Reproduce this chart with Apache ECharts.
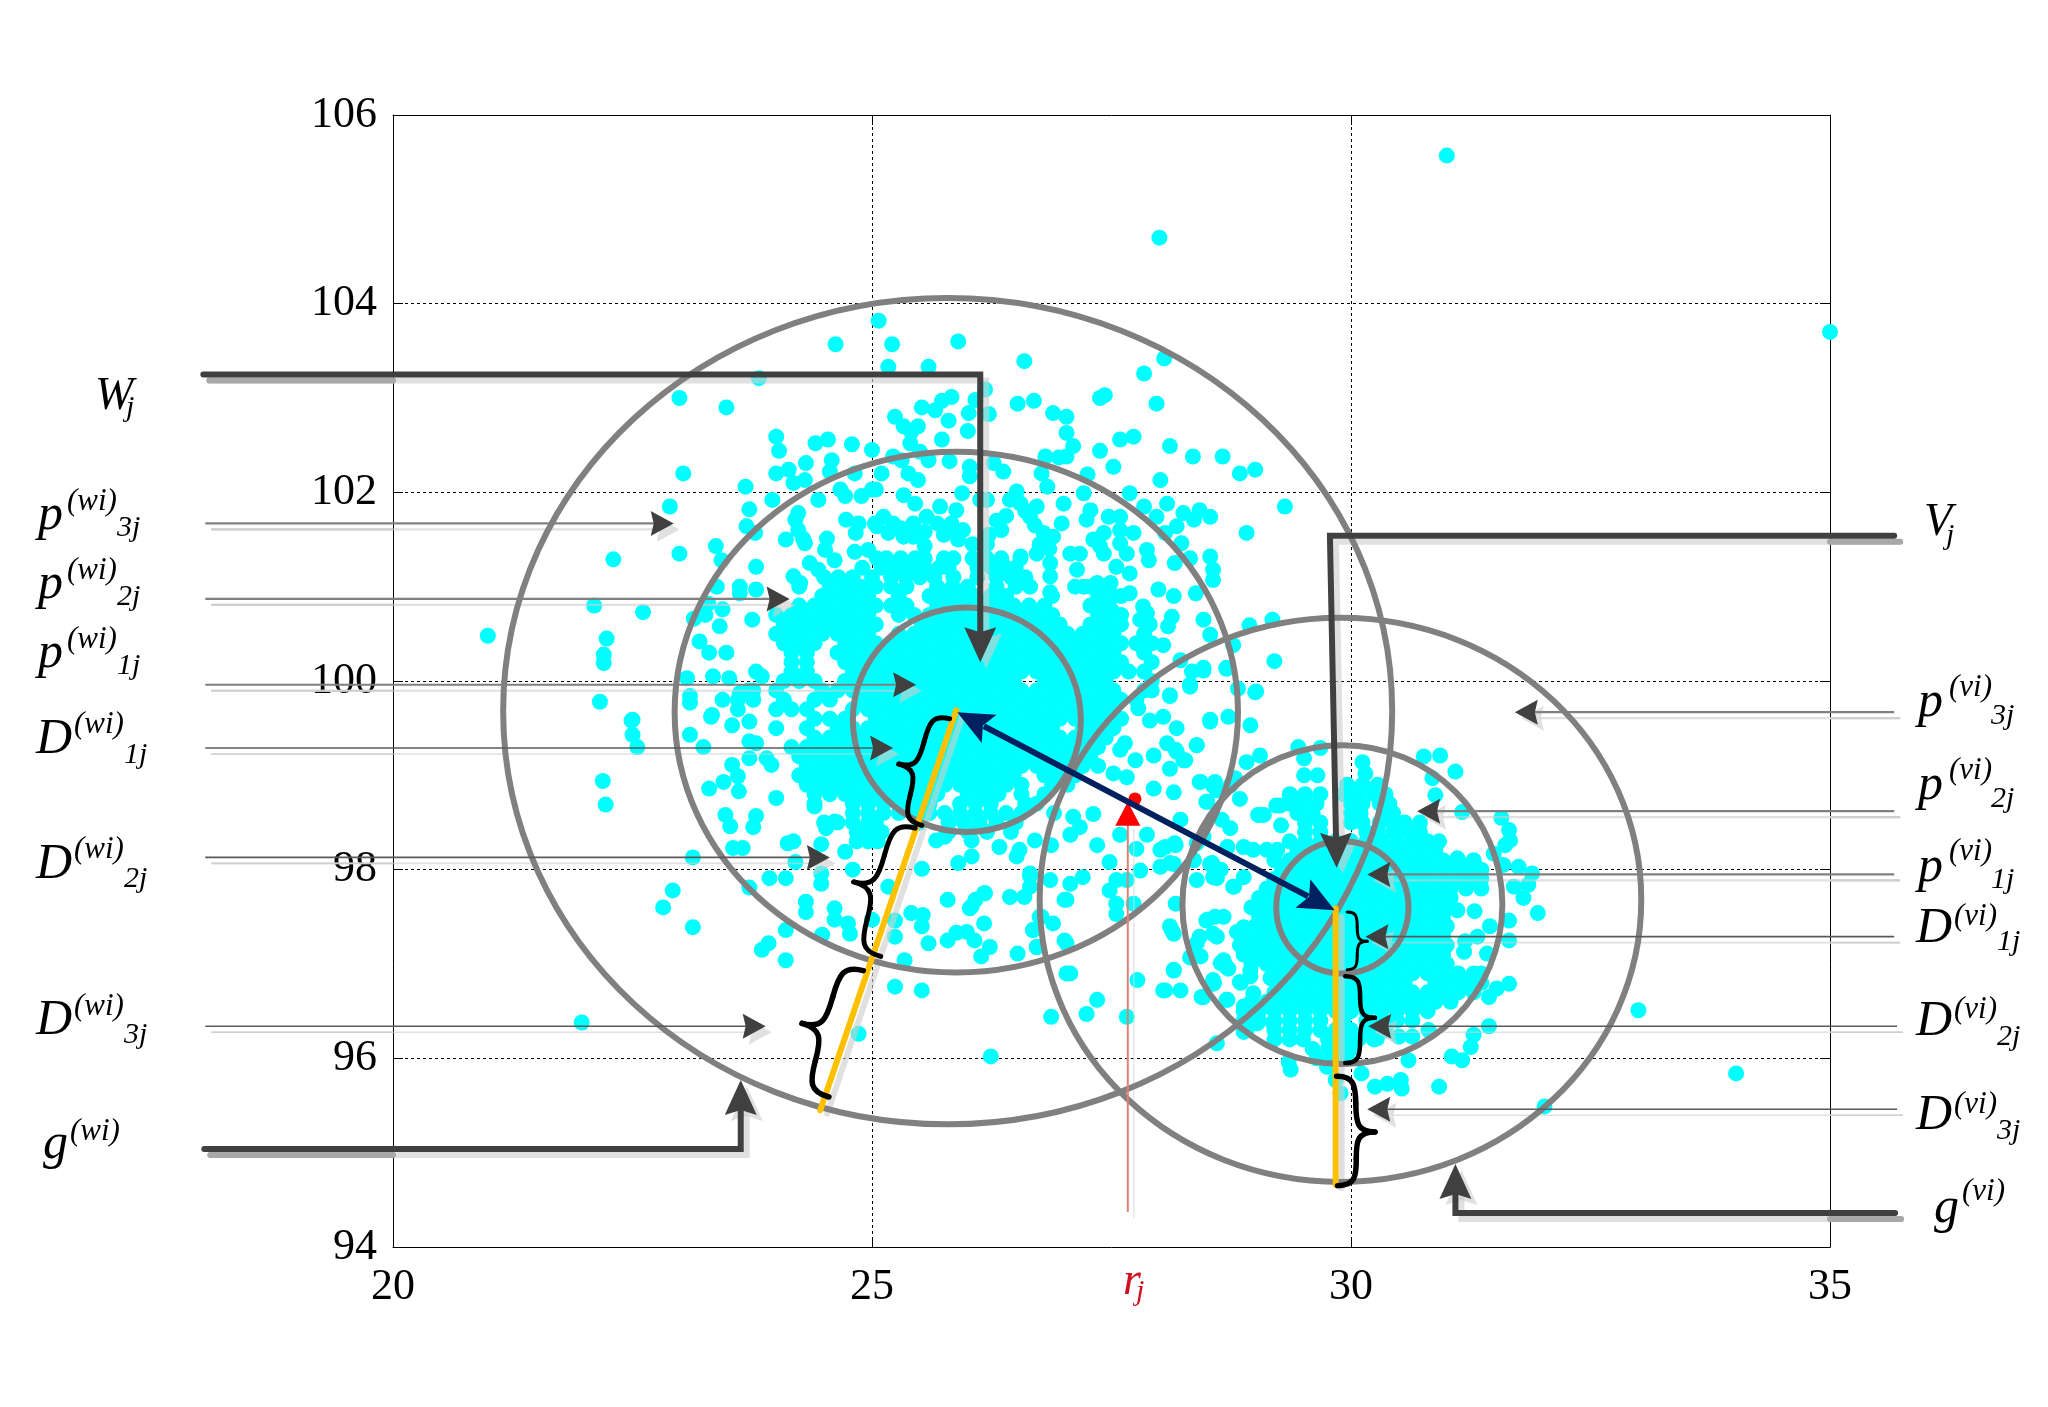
<!DOCTYPE html>
<html>
<head>
<meta charset="utf-8">
<style>html,body{margin:0;padding:0;background:#fff}#c{width:2048px;height:1407px}</style>
<script src="https://cdn.jsdelivr.net/npm/echarts@6/dist/echarts.min.js"></script>
</head>
<body>
<div id="c"></div>
<script>
// ---------- tick values ----------
const xTicks = [20, 25, 30, 35];
const yTicks = [94, 96, 98, 100, 102, 104, 106];

// ---------- scattered points [x, y] ----------
const outlierPoints = [[35,103.7],[31,105.57],[28,104.7],[21.97,96.38],[33,96.51],[34.02,95.84],[20.99,100.48],[32.02,95.49],[22.19,98.94],[22.22,98.69],[22.49,99.58],[22.5,99.43],[22.55,99.3]];

const upperLeftPoints = [[24.62,103.57],[25.07,103.82],[23.82,103.21],[22.99,103],[23.48,102.9],[24,102.59],[24.03,102.44],[24.41,102.52],[24.54,102.56],[24.79,102.51],[25,102.45],[24.31,102.31],[24.58,102.34],[24.56,102.22],[24.13,102.24],[24,102.2],[24.18,102.1],[24.3,102.13],[23.03,102.2],[23.68,102.06],[24.67,102.03],[24.72,101.96],[24.89,101.96],[24.44,101.92],[25,102.03],[24.82,102.2],[23.96,101.92],[22.89,101.85],[23.72,101.82],[24.23,101.78],[24.2,101.71],[23.69,101.64],[23.78,101.57],[24.73,101.71],[24.86,101.67],[24.83,101.57],[25.03,101.67],[24.23,101.6],[24.28,101.51],[24.3,101.46],[24.1,101.5],[24.53,101.51],[24.51,101.39],[23.37,101.43],[22.99,101.35],[22.3,101.29],[23.43,101.28],[24.82,101.37],[24.96,101.39],[24.61,101.28],[24.35,101.25],[23.79,101.21],[24.44,101.18],[24.18,101.11],[24.25,101.04],[23.38,101],[23.62,101],[23.62,100.93],[23.79,100.97],[22.1,100.8],[22.61,100.73],[23.44,100.76],[23.29,100.82],[23.14,100.66],[23.26,100.7],[23.41,100.58],[23.75,100.65],[22.23,100.45],[22.2,100.28],[22.2,100.19],[23.2,100.42],[23.3,100.3],[23.48,100.3],[23.79,100.1],[23.85,100.05],[23.07,100.03],[23.34,100.05],[23.51,100.03],[22.16,99.78],[23.1,99.84],[23.1,99.77],[23.62,99.87],[23.71,99.9],[22.5,99.59],[23.33,99.64]];

const upperRightPoints = [[25.21,103.57],[25.9,103.6],[25.17,103.33],[25.59,103.33],[26.59,103.39],[28.05,103.42],[27.84,103.26],[26.18,103.09],[27.43,103.03],[27.38,103],[26.69,102.97],[26.52,102.94],[27.97,102.94],[25.83,103.01],[25.73,102.97],[25.66,102.87],[25.52,102.9],[26.08,102.98],[26.01,102.84],[26.22,102.83],[25.8,102.76],[25.24,102.8],[25.33,102.7],[25.48,102.7],[25.41,102.64],[26,102.65],[26.89,102.84],[27.03,102.8],[27.03,102.63],[27.1,102.49],[27.73,102.59],[27.59,102.56],[28.11,102.49],[27.38,102.44],[28.35,102.38],[28.66,102.38],[29,102.24],[28.84,102.2],[27.52,102.27],[28.01,102.13],[25.73,102.56],[25.4,102.52],[25.22,102.38],[25.31,102.34],[25.5,102.43],[25.59,102.34],[25.81,102.33],[26.02,102.27],[26.02,102.17],[26.27,102.31],[26.37,102.22],[25.1,102.2],[25.38,102.2],[25.48,102.13],[26.81,102.38],[27.03,102.38],[26.95,102.37],[26.77,102.2],[26.83,102.06],[27.25,102.19],[25.04,102.03],[25.33,101.97],[25.45,101.88],[25.94,101.99],[26.13,101.92],[26.2,101.92],[26.51,102.01],[26.44,101.92],[26.55,101.88],[26.72,101.85],[26.65,101.74],[27,101.88],[27.21,101.99],[27.69,101.99],[28.08,101.88],[27.84,101.85],[27.28,101.81],[27.24,101.71],[29.31,101.85],[28.91,101.57],[28.53,101.74],[28.42,101.81],[28.25,101.78],[28.36,101.71],[27.97,101.74],[28.18,101.64],[28.06,101.57],[27.47,101.74],[27.59,101.74],[27.73,101.57],[27.59,101.6],[25.71,101.85],[25.88,101.81],[25.83,101.67],[25.57,101.74],[25.43,101.67],[25.68,101.67],[25.12,101.74],[25.22,101.67],[25.05,101.64],[25.17,101.57],[25.33,101.53],[25.43,101.53],[25.55,101.43],[26.98,101.67],[26.89,101.53],[26.79,101.57],[27.42,101.57],[27.31,101.5],[27.38,101.43],[27.42,101.35],[27.59,101.46],[27.66,101.35],[27.55,101.21],[28.23,101.46],[27.87,101.39],[27.89,101.28],[28.53,101.32],[28.56,101.18],[28.56,101.07],[28.32,101.3],[28.16,101.25],[27.07,101.35],[27.17,101.35],[26.72,101.35],[26.86,101.25],[26.86,101.11],[26.55,101.32],[26.86,100.94],[27.14,101.18],[27.21,101],[27.35,101.04],[27.49,101.04],[27.69,101.14],[27.69,100.93],[27.99,100.97],[28.15,100.9],[28.38,100.93],[27.83,100.79],[27.87,100.72],[28.13,100.68],[28.09,100.58],[28.04,100.38],[28.46,100.65],[28.53,100.49],[28.77,100.38],[28.94,100.59],[29.18,100.65],[29.2,100.21],[28.7,100.14],[29.01,99.89],[28.82,99.92],[28.46,100.14],[28.34,100.1],[28.22,100.22],[28.32,99.96],[28.11,99.84],[27.92,99.9],[28.53,99.59],[28.72,99.62],[26.3,101.7],[26.35,101.6],[26.22,101.55],[26.2,101.45],[26.05,101.45],[25.9,101.5],[25.75,101.55],[25.85,101.6],[25.95,101.6],[26.4,101.75],[26.6,101.8],[26.7,101.65],[26.75,101.45],[26.85,101.4],[25.3,101.62],[25.55,101.58],[27.6,100.7],[27.5,100.75],[27.9,100.6],[27.8,100.65],[27.6,100.9]];

const lowerPoints = [[23.32,99.62],[23.54,99.53],[23.72,99.57],[23.1,99.43],[23.24,99.3],[23.72,99.36],[23.79,99.34],[23.72,99.18],[23.9,99.18],[23.95,99.11],[23.54,99.11],[23.6,98.99],[23.45,98.93],[23.3,98.86],[23.61,98.83],[24,98.76],[23.47,98.58],[23.79,98.57],[23.52,98.46],[23.76,98.45],[23.55,98.23],[23.65,98.23],[24.12,98.28],[24.18,98.3],[24.47,98.27],[24.72,98.19],[23.13,98.13],[24.2,98.08],[24.61,98.51],[24.52,98.44],[24.4,98.67],[24.8,98],[24.47,97.96],[24.47,97.85],[23.93,97.91],[24.1,97.91],[23.72,97.81],[22.92,97.78],[22.82,97.6],[23.13,97.39],[24.31,97.66],[24.31,97.55],[24.61,97.59],[24.61,97.47],[24.75,97.43],[24.77,97.32],[25,97.47],[25.17,97.82],[25.52,98.01],[24.1,97.36],[24.48,97.31],[23.92,97.22],[23.85,97.15],[24.1,97.04],[25.24,97.46],[25.24,97.29],[25.34,97.04],[25.41,97.54],[25.53,97.52],[25.52,97.4],[25.79,97.68],[26.17,97.75],[26.04,97.61],[25.59,97.22],[25.79,97.25],[25.88,97.33],[25.99,97.34],[26.07,97.25],[26.17,97.43],[26.23,97.18],[26.14,97.08],[26.52,97.11],[26.72,97.18],[26.68,97.36],[26.89,97.43],[26.75,97.5],[26.44,97.71],[26.59,97.71],[26.65,97.93],[26.86,97.89],[27.01,97.68],[27.01,97.25],[27.03,96.9],[26.87,96.44],[26.24,96.02],[25.24,96.76],[25.52,96.72],[24.86,96.26],[25.9,98.07],[26.04,98.14],[26.51,98.14],[26.54,98.21],[26.33,98.24],[26.7,98.31],[26.87,98.26],[26.04,98.31],[25.67,98.31],[25.76,98.35],[27.77,96.83],[27.35,96.62],[27.24,96.47],[27.66,96.44],[28.04,96.72],[28.22,96.72],[28.15,96.93],[28.13,97.36],[28.46,96.65],[28.7,96.62],[28.56,96.79],[28.6,96.16],[28.91,96.3],[27.07,96.9],[28.53,99.57],[28.95,99.53],[28.11,99.85],[28.32,99.94],[28.46,100.11],[29,99.88],[28.7,100.13],[27.52,99.76],[27.78,99.71],[27.9,99.58],[28.04,99.62],[28.18,99.5],[27.24,99.69],[27.35,99.55],[27.64,99.34],[27.75,99.16],[28.08,99.34],[28.18,99.25],[28.27,99.16],[28.39,99.32],[28.11,99.07],[27.94,99.21],[27.94,98.86],[28.15,98.82],[28.42,98.93],[28.56,98.89],[28.74,98.89],[28.49,98.72],[28.84,98.75],[29.22,98.68],[29.05,99.21],[28.91,99.14],[29.03,98.58],[27.52,99.02],[27.66,98.98],[27.59,99.27],[27.1,98.56],[27.31,98.59],[27.17,98.45],[27.07,98.37],[27.35,98.26],[27.87,98.37],[27.59,98.37],[27.76,98.22],[27.48,98.08],[28.01,98.21],[28.15,98.06],[28.01,98.03],[28.16,98.28],[28.39,98.28],[28.53,98.06],[28.56,97.92],[28.39,97.89],[28.77,97.82],[28.88,97.92],[27.8,97.99],[27.55,97.89],[27.66,97.89],[27.48,97.78],[27.55,97.64],[27.73,97.64],[27.55,97.53],[27.2,97.92],[27.07,97.85],[27.03,97.68],[26.65,97.96],[26.65,97.82],[26.18,97.75],[26.08,97.68],[26.02,97.59],[26.77,97.5],[26.68,97.36],[26.72,97.18],[27.03,97.22],[28.49,97.46],[28.67,97.5],[28.42,97.29],[28.56,97.32],[28.88,97.39],[28.67,97.04],[28.7,96.97],[28.56,96.83],[29.05,97.53],[29.15,97.29],[28.91,97.22],[29.09,97.11],[28.95,96.93],[28.84,96.81],[28.32,97.07],[28.39,97.22]];

const viEdgePoints = [[30.76,99.2],[30.93,99.21],[31.09,99.04],[30.85,98.97],[30.88,98.79],[31.16,98.61],[31.57,98.55],[31.65,98.42],[31.66,98.31],[31.61,98.26],[31.49,98.17],[31.11,98.12],[31.28,98.08],[31.59,98.05],[31.75,98.03],[31.89,97.96],[31.7,97.82],[31.85,97.84],[31.8,97.7],[31.95,97.54],[31.65,97.46],[31.45,97.4],[31.32,97.29],[31.19,97.24],[31.18,97.13],[31.65,97.25],[31.42,97.11],[31.11,97.57],[31.29,97.56],[31.65,96.79],[31.52,96.74],[31.44,96.65],[31.44,96.34],[31.28,96.25],[31.25,96.12],[31.05,96.02],[31.16,95.98],[30.6,95.98],[30.81,96.3],[30.64,96.23],[30.5,96.23],[30.27,96.21],[30.92,95.7],[30.52,95.77],[30.53,95.68],[30.38,95.73],[30.25,95.7],[30.11,95.84],[29.89,95.63],[29.84,95.77],[29.75,95.91],[29.37,95.88],[29.35,95.96],[28.39,99.32],[28.17,99.27],[28.25,99.16],[28.43,98.93],[28.58,98.93],[28.6,98.84],[28.5,98.72],[28.79,98.97],[28.65,98.53],[28.74,98.44],[29.04,98.58],[29.09,98.58],[29.27,98.47],[29.26,98.68],[29.37,98.79],[29.45,99.3],[29.51,99.18],[29.68,99.29],[30.12,99.14],[29.51,99],[29.65,99],[30.15,99.02],[28.22,98.53],[28.11,98.07],[28.06,98.24],[28.17,98.26],[28.46,98.35],[28.36,98.1],[28.88,98.24],[28.98,98.21],[29.12,98.21],[29.23,98.21],[28.71,98.24],[28.55,98.07],[28.64,98],[28.6,97.91],[28.78,97.82],[28.17,97.64],[28.11,97.4],[28.15,97.32],[28.5,97.47],[28.58,97.5],[28.6,97.29],[28.81,97.34],[28.43,97.08],[28.64,97.01],[28.72,96.95],[28.15,96.94],[28.57,96.8],[28.44,96.65],[28.71,96.62],[28.06,96.72],[28.95,96.87],[28.85,96.8],[28.98,96.69],[29.16,96.85],[28.88,96.55],[28.91,96.42],[29.02,96.37],[28.88,96.28],[29.19,96.37]];

// ---------- dense rows: first entry y, remaining entries x ----------
const wiDenseRows = [
[101.3,25.05,25.15,25.3,25.45,25.55,25.75,25.85,26.05,26.2,26.35,26.55],
[101.2,24.9,25.1,25.25,25.4,25.55,25.7,25.8,26.1,26.25,26.4,26.5],
[101.1,24.5,24.65,24.8,25,25.2,25.35,25.5,25.65,25.85,26.1,26.3,26.45,26.6],
[101,24.24,24.56,24.72,24.88,25.04,25.2,25.36,25.68,25.84,26,26.3,26.5,26.65,27.12,27.28,27.44],
[100.9,24.48,24.64,24.8,24.96,25.28,25.6,25.76,25.92,26.08,26.24,26.4,26.88,27.36,27.52],
[100.8,24.24,24.4,24.56,24.72,24.88,25.04,25.2,25.36,25.68,25.84,26,26.16,26.32,26.48,26.64,26.8,27.28,27.44],
[100.7,24,24.16,24.32,24.48,24.64,24.8,24.96,25.28,25.44,25.6,25.76,25.92,26.08,26.24,26.4,26.56,26.72,26.88,27.36,27.52],
[100.6,24.08,24.24,24.4,24.56,24.72,24.88,25.04,25.52,25.68,25.84,26,26.16,26.32,26.48,26.64,26.8,26.96,27.28,27.44,27.6],
[100.5,24,24.16,24.32,24.48,24.64,24.8,24.96,25.28,25.44,25.6,25.76,25.92,26.08,26.24,26.4,26.56,26.72,26.88,27.04,27.2,27.36,27.52,27.84],
[100.4,24.08,24.24,24.4,24.72,24.88,25.04,25.2,25.36,25.52,25.68,25.84,26,26.16,26.32,26.48,26.64,26.8,26.96,27.12,27.28,27.44,27.6,27.76,27.92],
[100.3,24.16,24.32,24.64,24.8,24.96,25.12,25.28,25.44,25.6,25.76,25.92,26.08,26.24,26.4,26.56,26.72,26.88,27.04,27.2,27.36,27.52,27.84],
[100.2,24.16,24.32,24.72,24.88,25.04,25.2,25.36,25.52,25.68,25.84,26,26.16,26.32,26.48,26.64,26.8,26.96,27.12,27.28,27.44,27.6,27.92],
[100.1,24.16,24.32,24.8,24.96,25.12,25.28,25.44,25.6,25.76,25.92,26.08,26.24,26.4,26.56,26.72,26.88,27.04,27.2,27.36,27.52,27.68,27.84],
[100,24.08,24.24,24.4,24.72,24.88,25.04,25.2,25.36,25.52,25.68,25.84,26,26.16,26.32,26.48,26.8,26.96,27.12,27.28,27.44,27.92],
[99.9,23.76,24,24.48,24.64,24.8,24.96,25.12,25.28,25.44,25.6,25.76,25.92,26.08,26.24,26.4,26.56,26.72,26.88,27.04,27.2,27.36,27.52,27.84],
[99.8,23.44,23.6,23.76,24.08,24.4,24.56,24.88,25.04,25.2,25.36,25.52,25.68,25.84,26,26.16,26.32,26.48,26.64,26.8,26.96,27.12,27.28,27.44,27.6,27.76],
[99.7,23.6,24,24.16,24.32,24.8,24.96,25.12,25.28,25.44,25.6,25.76,25.92,26.08,26.24,26.4,26.56,26.72,26.88,27.04,27.2,27.36,27.52],
[99.6,24.4,24.56,24.72,25.04,25.2,25.36,25.52,25.68,25.84,26,26.16,26.32,26.48,26.64,26.8,26.96,27.12,27.28,27.44,27.6],
[99.5,24,24.32,24.64,24.8,24.96,25.12,25.28,25.44,25.6,25.76,25.92,26.08,26.24,26.4,26.56,26.72,26.88,27.2,27.36,27.52],
[99.4,24.4,24.56,24.72,24.88,25.04,25.2,25.36,25.52,25.68,25.84,26,26.16,26.32,26.48,26.64,26.8,26.96,27.12,27.28,27.44],
[99.3,24.16,24.32,24.48,24.64,24.8,24.96,25.12,25.28,25.44,25.6,25.76,25.92,26.08,26.24,26.4,26.56,26.72,26.88,27.04,27.2,27.36],
[99.2,24.24,24.4,24.56,24.72,24.88,25.04,25.2,25.36,25.52,25.68,25.84,26,26.16,26.32,26.48,26.64,26.8,26.96,27.12,27.28],
[99.1,24.32,24.48,24.64,24.8,24.96,25.12,25.28,25.44,25.6,25.76,25.92,26.08,26.24,26.4,26.56,26.72,26.88,27.04,27.2,27.36],
[99,24.24,24.4,24.56,24.72,24.88,25.04,25.2,25.36,25.52,25.68,25.84,26,26.16,26.32,26.48,26.8,26.96,27.12],
[98.9,24.32,24.48,24.64,24.8,24.96,25.12,25.28,25.44,25.6,25.76,25.92,26.08,26.24,26.4,26.56,26.88,27.04],
[98.8,24.4,24.56,24.72,24.88,25.04,25.2,25.36,25.52,25.68,26,26.16,26.32,26.56,26.8],
[98.7,24.4,24.8,24.96,25.12,25.28,25.44,25.6,25.92,26.08,26.24,26.6,26.72],
[98.6,24.8,24.96,25.12,25.28,25.44,25.6,25.76,25.92,26.08,26.24,26.4,26.56,26.9],
[98.5,24.5,24.64,24.8,24.96,25.04,25.5,25.8,25.96,26.12,26.3,26.5],
[98.4,24.84,24.96,25.1,25.8,26,26.2,26.45],
[98.3,24.84,24.96,25.06]
];

const viDenseRows = [
[98.9,29.96,30.12,30.28],
[98.8,29.36,29.52,29.68,29.92,30.08,30.24,30.36],
[98.7,29.36,29.48,29.64,30,30.12,30.3,30.4],
[98.6,29.44,29.6,30,30.1,30.36,30.44],
[98.5,29.52,29.68,30,30.12,30.3,30.44,30.56,30.72],
[98.4,29.52,29.68,30.16,30.28,30.44,30.6,30.72],
[98.3,29.36,29.52,29.68,29.84,30,30.16,30.32,30.48,30.64,30.8,30.92],
[98.2,29.44,29.6,29.76,29.92,30.08,30.24,30.4,30.56,30.72,30.88],
[98.1,29.2,29.36,29.52,29.68,29.84,30,30.16,30.32,30.48,30.64,30.8,30.96,31.12,31.28],
[98,29.28,29.44,29.6,29.76,29.92,30.08,30.24,30.4,30.56,30.72,30.88,31.04,31.2,31.36],
[97.9,29.2,29.36,29.52,29.68,29.84,30,30.16,30.32,30.48,30.64,30.8,30.96,31.12,31.28,31.36],
[97.8,29.12,29.28,29.44,29.6,29.76,29.92,30.08,30.24,30.4,30.56,30.72,30.88,31.04,31.2,31.36],
[97.7,29.04,29.2,29.36,29.52,29.68,29.84,30,30.16,30.32,30.48,30.64,30.8,30.96,31.04],
[97.6,28.96,29.12,29.28,29.44,29.6,29.76,29.92,30.08,30.24,30.4,30.56,30.72,30.88,31.04],
[97.5,29.04,29.2,29.36,29.52,29.68,29.84,30,30.16,30.32,30.48,30.64,30.8,30.96],
[97.4,29,29.12,29.28,29.44,29.6,29.76,29.92,30.08,30.24,30.4,30.56,30.72,30.88,31],
[97.3,28.88,29.04,29.2,29.36,29.52,29.68,29.84,30,30.16,30.32,30.48,30.64,30.8,30.96],
[97.2,28.84,28.96,29.12,29.28,29.44,29.6,29.76,29.92,30.08,30.24,30.4,30.56,30.72,30.88,31],
[97.1,28.88,29.04,29.2,29.36,29.52,29.68,29.84,30,30.16,30.32,30.48,30.64,30.8,30.96],
[97,28.96,29.12,29.28,29.44,29.6,29.76,29.92,30.08,30.24,30.4,30.56,30.72,30.88,31],
[96.9,29.2,29.36,29.52,29.68,29.84,30,30.16,30.32,30.48,30.64,30.8,30.96,31.12,31.28,31.36],
[96.8,29.28,29.44,29.6,29.76,29.92,30.08,30.24,30.4,30.56,30.88,31.04,31.2,31.36],
[96.7,29.2,29.36,29.52,29.68,29.84,30,30.16,30.32,30.48,30.64,30.8,30.96,31.12,31.28],
[96.6,28.96,29.12,29.28,29.44,29.6,29.76,29.92,30.08,30.24,30.4,30.56,30.72,30.88,31.04],
[96.5,28.88,29.04,29.2,29.36,29.52,29.68,29.84,30,30.16,30.32,30.48,30.64,30.8],
[96.4,28.88,29.04,29.2,29.36,29.52,29.68,29.92,30.16,30.32,30.48,30.64],
[96.3,29.2,29.36,29.52,29.68,29.84,30,30.2,30.36],
[96.2,29.2,29.36,29.5,29.76,29.92,30.08,30.24],
[96.1,29.6,29.76,29.92,30],
[96,29.64,29.8,29.96]
];

// ---------- annotation geometry, in axis units ----------
const rings = [[25.79,99.68,4.64,4.38],[25.88,99.67,2.94,2.76],[25.99,99.59,1.19,1.19],[29.89,97.68,3.14,2.99],[29.91,97.63,1.67,1.69],[29.91,97.6,0.69,0.7]];
const heavyLeaders = [
  [[18.02,103.25],[26.13,103.25],[26.13,100.2]],
  [[35.67,101.54],[29.78,101.54],[29.85,98.02]],
  [[18.03,95.04],[23.63,95.04],[23.63,95.77]],
  [[35.68,94.36],[31.09,94.36],[31.09,94.88]]
];
const pLeaders = [
  [[18.04,101.67],[22.93,101.67]],[[18.04,100.87],[24.14,100.87]],[[18.04,99.96],[25.46,99.96]],
  [[35.67,99.67],[31.71,99.67]],[[35.67,98.62],[30.69,98.62]],[[35.67,97.95],[30.17,97.95]]
];
const dLeaders = [
  [[18.04,99.29],[25.22,99.29]],[[18.04,98.13],[24.56,98.13]],[[18.04,96.34],[23.89,96.34]],
  [[35.67,97.29],[30.15,97.29]],[[35.7,96.34],[30.18,96.34]],[[35.7,95.46],[30.17,95.46]]
];
const goldSegments = [[[24.46,95.45],[25.88,99.69]],[[29.84,97.59],[29.84,94.66]]];
const navySegment = [[25.89,99.67],[29.83,97.57]];
const redStem = [[27.67,94.37],[27.67,98.5]];
const redTip = [27.67,98.72];
const redDot = [27.745,98.75];
// brace: end A, tip, end B, stroke weight
const braces = [
  [25.81,99.6,25.28,99.12,25.52,98.47,5],
  [25.45,98.44,24.81,97.87,25.09,97.08,5],
  [24.91,96.93,24.27,96.37,24.55,95.59,5.5],
  [29.96,97.55,30.17,97.24,29.96,96.94,3],
  [29.94,96.87,30.25,96.43,29.94,95.95,4.5],
  [29.85,95.81,30.25,95.22,29.86,94.65,5.5]
];

// ---------- text labels: base, superscript, subscript ----------
const labelBase = ['W','p','p','p','D','D','D','g','V','p','p','p','D','D','D','g'];
const labelSup  = ['','(wi)','(wi)','(wi)','(wi)','(wi)','(wi)','(wi)','','(vi)','(vi)','(vi)','(vi)','(vi)','(vi)','(vi)'];
const labelSub  = ['j','3j','2j','1j','1j','2j','3j','','j','3j','2j','1j','1j','2j','3j',''];
// pixel layout of the label blocks: base x,baseline, sup x,baseline, sub x,baseline
const labelLayout = [
 [95,412,0,0,126,418],[38,533,67,512,117,538],[38,602,67,581,117,607],[38,671,67,650,117,676],
 [36,757,74,735,124,765],[36,882,74,860,124,889],[36,1038,74,1017,124,1045],[43,1162,70,1142,0,0],
 [1924,538,0,0,1946,546],[1918,720,1949,698,1991,726],[1918,803,1949,781,1991,809],[1918,885,1949,862,1991,890],
 [1916,946,1954,927,1997,952],[1916,1039,1954,1020,1997,1047],[1916,1133,1954,1115,1997,1141],[1934,1226,1962,1202,0,0]
];

// ---------- flatten the point lists ----------
function rowsToPoints(rows){const out=[];rows.forEach(r=>{for(let i=1;i<r.length;i++)out.push([r[i],r[0]]);});return out;}
const allPoints = [].concat(outlierPoints,upperLeftPoints,upperRightPoints,lowerPoints,viEdgePoints,rowsToPoints(wiDenseRows),rowsToPoints(viDenseRows));

const SERIF = '"Liberation Serif","Times New Roman",serif';
const SHADOW = 'rgba(205,205,205,0.62)';
const SH = 6;

function head(tip, from, L, W, N){
  const dx=tip[0]-from[0],dy=tip[1]-from[1],m=Math.hypot(dx,dy)||1,ux=dx/m,uy=dy/m,nx=-uy,ny=ux;
  return [[tip[0],tip[1]],[tip[0]-ux*L+nx*W/2,tip[1]-uy*L+ny*W/2],[tip[0]-ux*(L-N),tip[1]-uy*(L-N)],[tip[0]-ux*L-nx*W/2,tip[1]-uy*L-ny*W/2]];
}
function poly(points,stroke,w,cap){return {type:'polyline',silent:true,shape:{points},style:{stroke,lineWidth:w,fill:null,lineCap:cap||'butt',lineJoin:'miter'}};}
function fillPoly(points,fill){return {type:'polygon',silent:true,shape:{points},style:{fill,stroke:null}};}
function shift(pts){return pts.map(p=>[p[0]+SH,p[1]+SH]);}

function renderAnnotations(params, api){
  const c = p => api.coord(p);
  const shadows=[], front=[];
  const xl = c([20,94])[0], xr = c([35,94])[0];

  function leader(dataPts,color,w,L,W,N,outColor,cap){
    const pts=dataPts.map(c);
    const tip=pts[pts.length-1], prev=pts[pts.length-2];
    const hd=head(tip,prev,L,W,N);
    const back=[tip[0]-(tip[0]-prev[0])/Math.hypot(tip[0]-prev[0],tip[1]-prev[1])*(L-N-1),tip[1]-(tip[1]-prev[1])/Math.hypot(tip[0]-prev[0],tip[1]-prev[1])*(L-N-1)];
    const line=pts.slice(0,-1).concat([back]);
    shadows.push(poly(shift(line),SHADOW,w,cap));
    shadows.push(fillPoly(shift(hd),SHADOW));
    const s=shift(pts)[0];
    const lim=s[0]<xl?xl:xr;
    shadows.push(poly([s,[lim,s[1]]],outColor,w,cap));
    front.push(poly(line,color,w,cap));
    front.push(fillPoly(hd,'#404040'));
  }

  // rings
  const ringEls = rings.map(r=>{
    const p=c([r[0],r[1]]), sz=api.size([r[2],r[3]]);
    return {type:'ellipse',silent:true,shape:{cx:p[0],cy:p[1],rx:sz[0],ry:sz[1]},style:{fill:null,stroke:'#808080',lineWidth:6}};
  });

  heavyLeaders.forEach(l=>leader(l,'#404040',6,35,32,5,'#a8a8a8','round'));
  pLeaders.forEach(l=>leader(l,'#808080',2.2,23,25,3,'#cfcfcf'));
  dLeaders.forEach(l=>leader(l,'#5a5a5a',1.6,23,25,3,'#cfcfcf'));

  // gold segments
  const golds=[];
  goldSegments.forEach(g=>{
    const pts=g.map(c);
    shadows.push(poly(shift(pts),SHADOW,6));
    golds.push(poly(pts,'#FFC000',6,'round'));
  });

  // navy double arrow
  const n=navySegment.map(c);
  const navyEls=[];
  const h1=head(n[0],n[1],36,32,7), h2=head(n[1],n[0],36,32,7);
  const ux=(n[1][0]-n[0][0]),uy=(n[1][1]-n[0][1]),m=Math.hypot(ux,uy);
  navyEls.push(poly([[n[0][0]+ux/m*30,n[0][1]+uy/m*30],[n[1][0]-ux/m*30,n[1][1]-uy/m*30]],'#002060',6));
  navyEls.push(fillPoly(h1,'#002060'));
  navyEls.push(fillPoly(h2,'#002060'));

  // red marker
  const rs=redStem.map(c), rt=c(redTip), rd=c(redDot);
  const redEls=[];
  shadows.push(poly(shift(rs),'rgba(215,215,215,0.6)',1.5));
  redEls.push(poly(rs,'#E08078',2));
  redEls.push(fillPoly([rt,[rt[0]-12.5,rt[1]+24],[rt[0]+12.5,rt[1]+24]],'#FF0000'));
  redEls.push({type:'circle',silent:true,shape:{cx:rd[0],cy:rd[1],r:6.5},style:{fill:'#FF0000'}});

  // braces
  const braceEls=[];
  braces.forEach(b=>{
    const A=c([b[0],b[1]]),T=c([b[2],b[3]]),B=c([b[4],b[5]]),w=b[6];
    const ax=B[0]-A[0],ay=B[1]-A[1],len=Math.hypot(ax,ay),ex=ax/len,ey=ay/len;
    function half(S){
      const vx=T[0]-S[0],vy=T[1]-S[1],along=vx*ex+vy*ey;
      const ux2=ex*along,uy2=ey*along,nx=vx-ux2,ny=vy-uy2;
      const P=[S[0]+ux2*0.5+nx*0.5,S[1]+uy2*0.5+ny*0.5];
      const cubic=(p0,c1,c2,p3)=>({type:'bezierCurve',silent:true,shape:{x1:p0[0],y1:p0[1],cpx1:c1[0],cpy1:c1[1],cpx2:c2[0],cpy2:c2[1],x2:p3[0],y2:p3[1]},style:{stroke:'#000',fill:null,lineWidth:w,lineCap:'round'}});
      braceEls.push(cubic(S,[S[0]+nx*0.45,S[1]+ny*0.45],[P[0]-ux2*0.35,P[1]-uy2*0.35],P));
      braceEls.push(cubic(P,[P[0]+ux2*0.35,P[1]+uy2*0.35],[T[0]-nx*0.45,T[1]-ny*0.45],T));
    }
    half(A);half(B);
  });

  return {type:'group',children:[].concat(shadows,ringEls,redEls,golds,navyEls,front,braceEls)};
}

function text(str,x,baseline,size,fill){
  return {type:'text',silent:true,x:x,y:baseline-0.3375*size,z:50,style:{text:str,fill:fill||'#000',font:'italic '+size+'px '+SERIF,align:'left',verticalAlign:'middle'}};
}
const textEls=[];
labelBase.forEach((b,i)=>{
  const L=labelLayout[i];
  const baseSize=(b==='W'||b==='V')?46:50;
  textEls.push(text(b,L[0],L[1],baseSize));
  if(labelSup[i]) textEls.push(text(labelSup[i],L[2],L[3],31));
  if(labelSub[i]) textEls.push(text(labelSub[i],L[4],L[5],30));
});
textEls.push(text('r',1123,1297,46,'#D01020'));
textEls.push(text('j',1136,1302,30,'#D01020'));

const chart=echarts.init(document.getElementById('c'),null,{renderer:'canvas',width:2048,height:1407});
const axisFont={fontFamily:SERIF,fontSize:44,color:'#000'};
const dash={show:true,lineStyle:{color:'#000',type:[3,3],width:1}};
chart.setOption({
  animation:false,
  backgroundColor:'#fff',
  grid:{left:393,top:115,width:1437,height:1132,containLabel:false},
  xAxis:[
    {type:'value',min:xTicks[0],max:xTicks[xTicks.length-1],interval:5,position:'bottom',axisLine:{show:true,onZero:false,lineStyle:{color:'#000',width:1}},axisTick:{show:true,inside:true,length:10,lineStyle:{color:'#000'}},axisLabel:Object.assign({margin:18,hideOverlap:false},axisFont),splitLine:dash},
    {type:'value',min:xTicks[0],max:xTicks[xTicks.length-1],interval:5,position:'top',axisLine:{show:true,onZero:false,lineStyle:{color:'#000',width:1}},axisTick:{show:true,inside:true,length:10,lineStyle:{color:'#000'}},axisLabel:{show:false},splitLine:{show:false}}
  ],
  yAxis:[
    {type:'value',min:yTicks[0],max:yTicks[yTicks.length-1],interval:2,position:'left',axisLine:{show:true,onZero:false,lineStyle:{color:'#000',width:1}},axisTick:{show:true,inside:true,length:10,lineStyle:{color:'#000'}},axisLabel:Object.assign({margin:16,hideOverlap:false,padding:[12,0,0,0]},axisFont),splitLine:dash},
    {type:'value',min:yTicks[0],max:yTicks[yTicks.length-1],interval:2,position:'right',axisLine:{show:true,onZero:false,lineStyle:{color:'#000',width:1}},axisTick:{show:true,inside:true,length:10,lineStyle:{color:'#000'}},axisLabel:{show:false},splitLine:{show:false}}
  ],
  series:[
    {type:'scatter',xAxisIndex:0,yAxisIndex:0,data:allPoints,symbol:'circle',symbolSize:16,itemStyle:{color:'#00FFFF',opacity:1},silent:true,z:2,large:false,progressive:0,clip:false},
    {type:'custom',xAxisIndex:0,yAxisIndex:0,data:[[25,100]],renderItem:renderAnnotations,silent:true,z:5,clip:false}
  ],
  graphic:{elements:textEls}
});
</script>
</body>
</html>
